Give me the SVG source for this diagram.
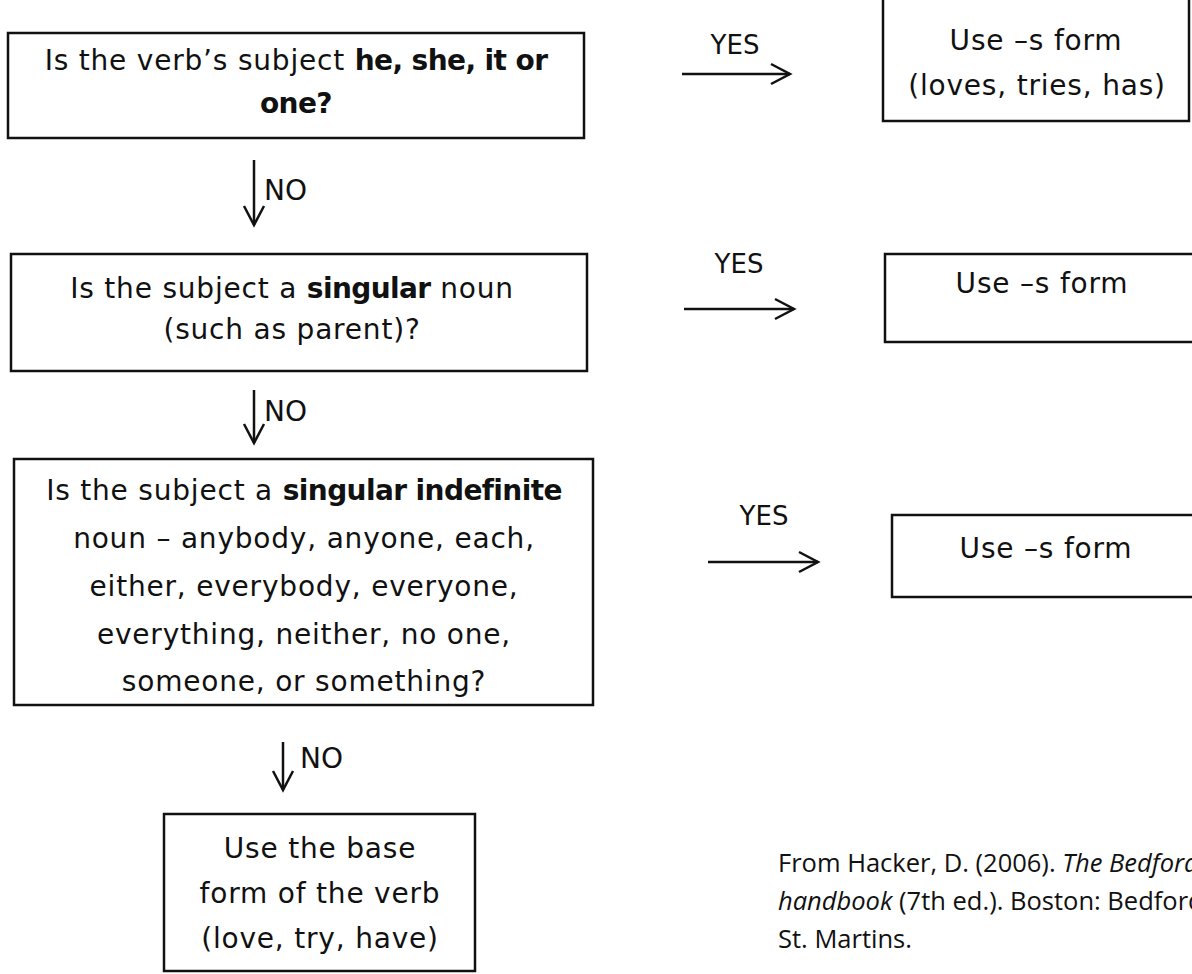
<svg xmlns="http://www.w3.org/2000/svg" width="1192" height="974" viewBox="0 0 1192 974">
<defs>
<style>
.box{fill:#fff;stroke:#111;stroke-width:2.5}
.t{font-family:"DejaVu Sans",sans-serif;font-size:28px;letter-spacing:0.8px;fill:#111;text-anchor:middle}
.b{font-weight:bold;letter-spacing:-0.6px}
.no{font-family:"DejaVu Sans",sans-serif;font-size:28px;fill:#111;text-anchor:start}
.lbl{font-family:"DejaVu Sans",sans-serif;font-size:26px;fill:#111;text-anchor:middle}
.cite{font-family:"Open Sans",sans-serif;font-size:25.5px;fill:#111}
.conn{stroke:#111;stroke-width:2.5;fill:none}
</style>
<marker id="arr" markerUnits="userSpaceOnUse" markerWidth="22" markerHeight="22" refX="19" refY="10" orient="auto" overflow="visible">
<path d="M0,0 L19,10 L0,20" fill="none" stroke="#111" stroke-width="2.5"/>
</marker>
</defs>
<rect width="1192" height="974" fill="#fff"/>

<g id="q1">
<rect class="box" x="8" y="33" width="576" height="105"/>
<text class="t" x="296" y="70">Is the verb’s subject <tspan class="b">he, she, it or</tspan></text>
<text class="t" x="296" y="113"><tspan class="b">one?</tspan></text>
</g>

<g id="q2">
<rect class="box" x="11" y="254" width="576" height="117"/>
<text class="t" x="292" y="298">Is the subject a <tspan class="b">singular</tspan> noun</text>
<text class="t" x="292" y="339">(such as parent)?</text>
</g>

<g id="q3">
<rect class="box" x="14" y="459" width="579" height="246"/>
<text class="t" x="304" y="500">Is the subject a <tspan class="b">singular indefinite</tspan></text>
<text class="t" x="304" y="548">noun – anybody, anyone, each,</text>
<text class="t" x="304" y="596">either, everybody, everyone,</text>
<text class="t" x="304" y="644">everything, neither, no one,</text>
<text class="t" x="304" y="691">someone, or something?</text>
</g>

<g id="base">
<rect class="box" x="164" y="814" width="311" height="157"/>
<text class="t" x="320" y="858">Use the base</text>
<text class="t" x="320" y="903">form of the verb</text>
<text class="t" x="320" y="948">(love, try, have)</text>
</g>

<g id="s1">
<rect class="box" x="883" y="-3" width="306" height="124"/>
<text class="t" x="1036" y="50">Use –s form</text>
<text class="t" x="1037" y="95">(loves, tries, has)</text>
</g>

<g id="s2">
<rect class="box" x="885" y="254" width="320" height="88"/>
<text class="t" x="1042" y="293">Use –s form</text>
</g>

<g id="s3">
<rect class="box" x="892" y="515" width="320" height="82"/>
<text class="t" x="1046" y="558">Use –s form</text>
</g>

<g id="connectors">
<line class="conn" x1="682" y1="74" x2="790" y2="74" marker-end="url(#arr)"/>
<text class="lbl" x="735" y="54">YES</text>
<line class="conn" x1="684" y1="309" x2="794" y2="309" marker-end="url(#arr)"/>
<text class="lbl" x="739" y="273">YES</text>
<line class="conn" x1="708" y1="562" x2="818" y2="562" marker-end="url(#arr)"/>
<text class="lbl" x="764" y="525">YES</text>

<line class="conn" x1="254" y1="160" x2="254" y2="225" marker-end="url(#arr)"/>
<text class="no" x="264" y="200">NO</text>
<line class="conn" x1="254" y1="390" x2="254" y2="443" marker-end="url(#arr)"/>
<text class="no" x="264" y="421">NO</text>
<line class="conn" x1="283" y1="742" x2="283" y2="790" marker-end="url(#arr)"/>
<text class="no" x="300" y="768">NO</text>
</g>

<g id="citation">
<text class="cite" x="778" y="872">From Hacker, D. (2006). <tspan font-style="italic">The Bedford</tspan></text>
<text class="cite" x="778" y="910"><tspan font-style="italic">handbook</tspan> (7th ed.). Boston: Bedford</text>
<text class="cite" x="778" y="948">St. Martins.</text>
</g>
</svg>
